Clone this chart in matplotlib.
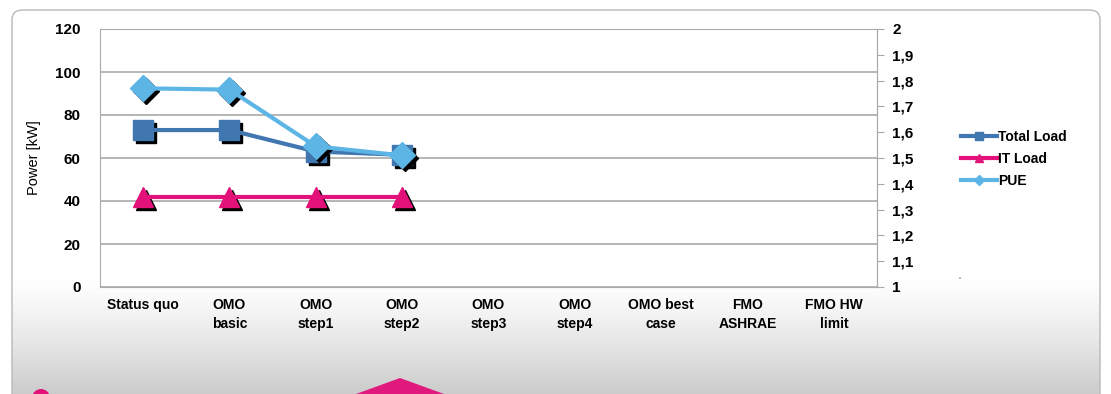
#!/usr/bin/env python3
"""Power and PUE per cooling-optimisation scenario."""

import matplotlib
matplotlib.use("Agg")
import matplotlib.pyplot as plt
import matplotlib.transforms as mtransforms
import numpy as np
from matplotlib.patches import FancyBboxPatch, Circle, Polygon

scenarios = ["Status quo", "OMO\nbasic", "OMO\nstep1", "OMO\nstep2", "OMO\nstep3",
             "OMO\nstep4", "OMO best\ncase", "FMO\nASHRAE", "FMO HW\nlimit"]
total_load = [73, 73, 63, 61.5]
it_load = [42, 42, 42, 42]
pue = [1.77, 1.765, 1.545, 1.51]

C_TOTAL = "#4177b0"
C_IT = "#e2127a"
C_PUE = "#5db5e6"
GRID = "#a9a9a9"

plt.rcParams["font.family"] = ["Liberation Sans Narrow", "Liberation Sans", "DejaVu Sans"]
plt.rcParams["font.weight"] = "bold"

fig = plt.figure(figsize=(11.11, 3.94), dpi=100)
W, H = 1111, 394

# slide background: white panel with a grey fade at the bottom
bg = fig.add_axes([0, 0, 1, 1], zorder=-10)
bg.set_xlim(0, W)
bg.set_ylim(H, 0)
bg.axis("off")
grad = np.linspace(0, 1, 200)[:, None] ** 1.2
bg.imshow(np.dstack([1 - 0.2 * grad] * 3), extent=[12, 1100, H, 280], aspect="auto", zorder=0)
bg.add_patch(FancyBboxPatch((12, 10), 1088, 420, boxstyle="round,pad=0,rounding_size=10",
                            fc="none", ec="#b8b8b8", lw=1.0, zorder=1))
bg.add_patch(Circle((41, 398), 9, fc=C_IT, ec="none", zorder=2))
bg.add_patch(Polygon([(356, 394), (400, 378), (444, 394)], closed=True,
                     fc="#e0197c", ec="none", zorder=2))
bg.add_patch(Circle((960, 278), 0.8, fc="#777777", ec="none", zorder=2))

ax = fig.add_axes([100 / W, 1 - 287 / H, 777 / W, 258 / H])
ax2 = ax.twinx()
x = np.arange(len(scenarios))

ax.set_xlim(-0.5, len(scenarios) - 0.5)
ax.set_ylim(0, 120)
ax.set_yticks(np.arange(0, 121, 20))
ax.yaxis.grid(True, color=GRID, lw=1.2)
ax.set_axisbelow(True)
ax.tick_params(axis="y", length=0, pad=14, labelsize=11)
ax.tick_params(axis="x", length=0, pad=8, labelsize=10)
ax.set_xticks(x)
ax.set_xticklabels(scenarios, linespacing=1.45)
ax.set_ylabel("Power [kW]", fontsize=10.5, fontweight="normal", labelpad=10)
for s in ax.spines.values():
    s.set_color(GRID)

ax2.set_ylim(1, 2)
ax2.set_yticks(np.round(np.arange(1, 2.01, 0.1), 1))
ax2.set_yticklabels(["1", "1,1", "1,2", "1,3", "1,4", "1,5", "1,6", "1,7", "1,8", "1,9", "2"])
ax2.tick_params(axis="y", length=5, color=GRID, labelsize=11, pad=6)
for s in ax2.spines.values():
    s.set_visible(False)
ax2.spines["right"].set_visible(True)
ax2.spines["right"].set_color(GRID)


def shadow(a):
    return mtransforms.offset_copy(a.transData, fig=fig, x=3, y=-3, units="dots")


n = len(total_load)
ax.plot(x[:n], total_load, marker="s", ms=15, ls="none", color="black", transform=shadow(ax), zorder=2)
ax.plot(x[:n], it_load, marker="^", ms=15, ls="none", color="black", transform=shadow(ax), zorder=2)
ax.plot(x[:n], total_load, color=C_TOTAL, lw=3, marker="s", ms=15, zorder=3)
ax.plot(x[:n], it_load, color=C_IT, lw=3, marker="^", ms=15, zorder=3)

ax2.plot(x[:n], pue, marker="D", ms=13, ls="none", color="black", transform=shadow(ax2), zorder=2)
ax2.plot(x[:n], pue, color=C_PUE, lw=3, marker="D", ms=13, zorder=3)

h = [plt.Line2D([], [], color=C_TOTAL, lw=3, marker="s", ms=6),
     plt.Line2D([], [], color=C_IT, lw=3, marker="^", ms=6),
     plt.Line2D([], [], color=C_PUE, lw=3, marker="D", ms=5)]
fig.legend(h, ["Total Load", "IT Load", "PUE"], loc="center left",
           bbox_to_anchor=(954 / W, 1 - 159 / H), frameon=False, fontsize=10,
           handlelength=2.6, handletextpad=0.1, labelspacing=0.6, borderpad=0)

fig.savefig("out.png", dpi=100)
